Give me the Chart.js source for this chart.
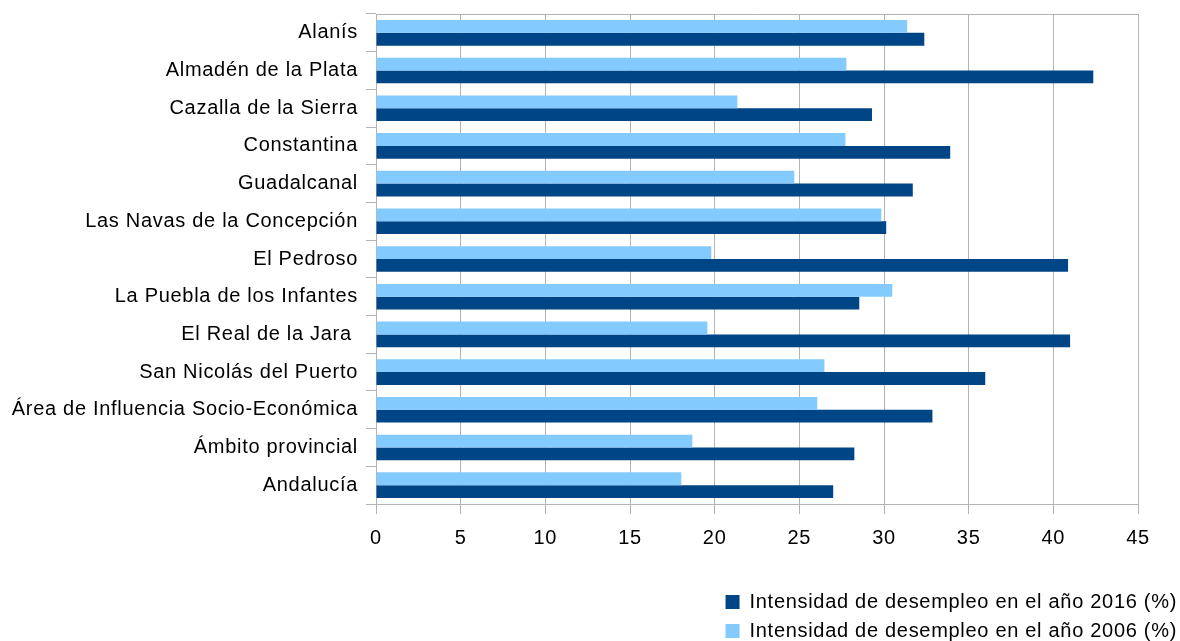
<!DOCTYPE html>
<html>
<head>
<meta charset="utf-8">
<script src="https://cdn.jsdelivr.net/npm/chart.js@4.4.1/dist/chart.umd.min.js"></script>
<style>
  html, body { margin: 0; padding: 0; background: #ffffff; }
  #wrap { width: 1180px; height: 641px; position: relative; }
</style>
</head>
<body>
<div id="wrap"><canvas id="c"></canvas></div>
<script>
const categories = [
  "Alanís",
  "Almadén de la Plata",
  "Cazalla de la Sierra",
  "Constantina",
  "Guadalcanal",
  "Las Navas de la Concepción",
  "El Pedroso",
  "La Puebla de los Infantes",
  "El Real de la Jara ",
  "San Nicolás del Puerto",
  "Área de Influencia Socio-Económica",
  "Ámbito provincial",
  "Andalucía"
];
const values2006 = [31.37, 27.78, 21.34, 27.72, 24.70, 29.84, 19.80, 30.49, 19.57, 26.48, 26.06, 18.68, 18.03];
const values2016 = [32.38, 42.36, 29.29, 33.91, 31.70, 30.13, 40.87, 28.54, 40.99, 35.98, 32.86, 28.25, 27.00];
const seriesNames = ["Intensidad de desempleo en el año 2006 (%)", "Intensidad de desempleo en el año 2016 (%)"];
const xTickMin = 0, xTickMax = 45, xTickStep = 5;

const FONT = "'Liberation Sans', Arial, sans-serif";
const GRID = "#b3b3b3";
const SPACING = '0.7px';

const textSpacing = {
  id: 'textSpacing',
  beforeLayout(chart) { chart.ctx.letterSpacing = SPACING; },
  beforeDraw(chart) { chart.ctx.letterSpacing = SPACING; }
};

const legendRows = {
  id: 'legendRows',
  afterInit(chart) {
    const lg = chart.legend;
    if (!lg || typeof lg._fitRows !== 'function') return;
    const orig = lg._fitRows;
    lg._fitRows = function(...args) {
      const saved = this.maxWidth;
      this.maxWidth = 540;
      const h = orig.apply(this, args);
      this.maxWidth = saved;
      if (this.lineWidths) this.lineWidths = this.lineWidths.map(w => w - 6);
      return h - 10;
    };
  }
};

new Chart(document.getElementById('c'), {
  type: 'bar',
  data: {
    labels: categories,
    datasets: [
      { label: seriesNames[0], data: values2006, backgroundColor: '#83caff', xAxisID: 'x', yAxisID: 'y' },
      { label: seriesNames[1], data: values2016, backgroundColor: '#004586', xAxisID: 'x', yAxisID: 'y' }
    ]
  },
  plugins: [textSpacing, legendRows],
  options: {
    indexAxis: 'y',
    responsive: true,
    maintainAspectRatio: false,
    animation: false,
    datasets: { bar: { barPercentage: 1.0, categoryPercentage: 0.68 } },
    layout: { padding: { top: 14, left: 0, right: 0, bottom: 0 } },
    scales: {
      x: {
        type: 'linear',
        position: 'bottom',
        min: xTickMin,
        max: xTickMax,
        ticks: { stepSize: xTickStep, color: '#000', font: { family: FONT, size: 20 }, padding: 12 },
        grid: { color: GRID, lineWidth: 1, tickLength: 10, drawTicks: true },
        border: { display: true, color: GRID, width: 1 },
        afterFit(s) { s.height = 79; }
      },
      xTop: {
        type: 'linear',
        position: 'top',
        min: 0, max: 1,
        grid: { display: false },
        ticks: { display: false },
        border: { display: true, color: GRID, width: 1 },
        afterFit(s) { s.height = 0; }
      },
      y: {
        type: 'category',
        position: 'left',
        ticks: { color: '#000', font: { family: FONT, size: 20 }, padding: 8 },
        grid: { display: true, drawOnChartArea: false, drawTicks: true, tickLength: 10, color: GRID, offset: true },
        border: { display: true, color: GRID, width: 1 },
        afterFit(s) { s.width = 376; s.paddingTop = 0; s.paddingBottom = 0; }
      },
      yRight: {
        type: 'category',
        position: 'right',
        grid: { display: false },
        ticks: { display: false },
        border: { display: false },
        afterFit(s) { s.width = 42; s.paddingTop = 0; s.paddingBottom = 0; }
      }
    },
    plugins: {
      legend: {
        display: true,
        position: 'bottom',
        align: 'end',
        reverse: true,
        labels: {
          color: '#000',
          font: { family: FONT, size: 20 },
          boxWidth: 14,
          boxHeight: 14,
          padding: 9
        }
      },
      tooltip: { enabled: false },
      title: { display: false }
    }
  }
});
</script>
</body>
</html>
